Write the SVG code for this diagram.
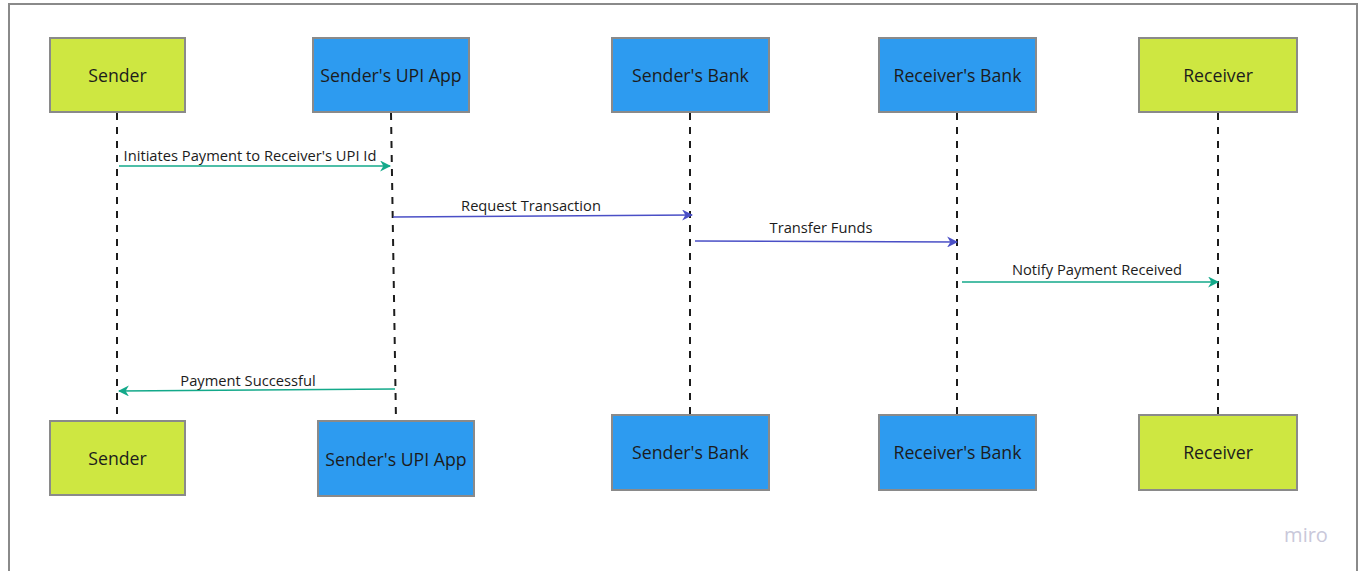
<svg xmlns="http://www.w3.org/2000/svg" width="1360" height="571" viewBox="0 0 1360 571">
<style>
.g{fill:#cee741;stroke:#8a8a8a;stroke-width:2}
.b{fill:#2d9bf0;stroke:#8a8a8a;stroke-width:2}
.t{font-family:"Open Sans","Noto Sans",sans-serif;font-size:17.7px;fill:#1c1c1c;text-anchor:middle;dominant-baseline:central}
.l{font-family:"Open Sans","Noto Sans",sans-serif;font-size:14.7px;fill:#1c1c1c;text-anchor:middle}
.life{stroke:#1c1c1c;stroke-width:2;stroke-dasharray:7 7;fill:none}
.ag{stroke:#13a98a;stroke-width:1.5;fill:none}
.ab{stroke:#4a4fc6;stroke-width:1.5;fill:none}
</style>
<defs>
<marker id="mg" viewBox="0 0 10 10" refX="9" refY="5" markerWidth="11" markerHeight="11" markerUnits="userSpaceOnUse" orient="auto"><path d="M0,0 L10,5 L0,10 L3,5 z" fill="#13a98a"/></marker>
<marker id="mb" viewBox="0 0 10 10" refX="9" refY="5" markerWidth="11" markerHeight="11" markerUnits="userSpaceOnUse" orient="auto"><path d="M0,0 L10,5 L0,10 L3,5 z" fill="#4a4fc6"/></marker>
</defs>
<rect x="0" y="0" width="1360" height="571" fill="#fff"/>
<rect x="9" y="4" width="1348" height="580" fill="#fff" stroke="#8a8a8a" stroke-width="2"/>
<g id="lifelines">
<line class="life" x1="117" y1="113" x2="117" y2="421"/>
<line class="life" x1="391" y1="113" x2="396" y2="421"/>
<line class="life" x1="690" y1="113" x2="690" y2="415"/>
<line class="life" x1="957" y1="113" x2="957" y2="415"/>
<line class="life" x1="1218" y1="113" x2="1218" y2="415"/>
</g>
<g id="sender-top"><rect class="g" x="50" y="38" width="135" height="74"/><text class="t" x="117.5" y="75">Sender</text></g>
<g id="upi-top"><rect class="b" x="313" y="38" width="156" height="74"/><text class="t" x="391" y="75">Sender's UPI App</text></g>
<g id="sbank-top"><rect class="b" x="612" y="38" width="157" height="74"/><text class="t" x="690.5" y="75">Sender's Bank</text></g>
<g id="rbank-top"><rect class="b" x="879" y="38" width="157" height="74"/><text class="t" x="957.5" y="75">Receiver's Bank</text></g>
<g id="receiver-top"><rect class="g" x="1139" y="38" width="158" height="74"/><text class="t" x="1218" y="75">Receiver</text></g>
<g id="sender-bottom"><rect class="g" x="50" y="421" width="135" height="74"/><text class="t" x="117.5" y="458">Sender</text></g>
<g id="upi-bottom"><rect class="b" x="318" y="421" width="156" height="75"/><text class="t" x="396" y="459">Sender's UPI App</text></g>
<g id="sbank-bottom"><rect class="b" x="612" y="415" width="157" height="75"/><text class="t" x="690.5" y="452">Sender's Bank</text></g>
<g id="rbank-bottom"><rect class="b" x="879" y="415" width="157" height="75"/><text class="t" x="957.5" y="452">Receiver's Bank</text></g>
<g id="receiver-bottom"><rect class="g" x="1139" y="415" width="158" height="75"/><text class="t" x="1218" y="452">Receiver</text></g>
<g id="connectors">
<line class="ag" x1="119" y1="166" x2="390" y2="166" marker-end="url(#mg)"/>
<text class="l" x="250" y="161">Initiates Payment to Receiver's UPI Id</text>
<line class="ab" x1="393" y1="217" x2="692" y2="215" marker-end="url(#mb)"/>
<text class="l" x="531" y="211">Request Transaction</text>
<line class="ab" x1="695" y1="241" x2="957" y2="242" marker-end="url(#mb)"/>
<text class="l" x="821" y="233">Transfer Funds</text>
<line class="ag" x1="962" y1="282" x2="1218" y2="282" marker-end="url(#mg)"/>
<text class="l" x="1097" y="275">Notify Payment Received</text>
<line class="ag" x1="395" y1="389" x2="119" y2="391" marker-end="url(#mg)"/>
<text class="l" x="248" y="386">Payment Successful</text>
</g>
<text x="1306" y="542" font-family="Open Sans, Noto Sans, sans-serif" font-size="20" fill="#c9c8da" text-anchor="middle">miro</text>
</svg>
